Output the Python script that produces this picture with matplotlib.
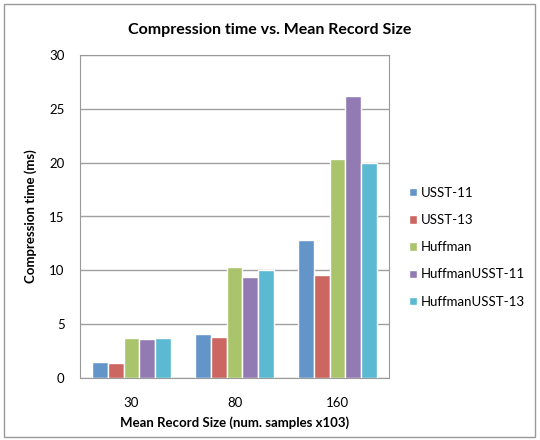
import matplotlib
matplotlib.use("Agg")
import matplotlib.pyplot as plt
import numpy as np
from matplotlib.patches import Rectangle

categories = ["30", "80", "160"]
series_names = ["USST-11", "USST-13", "Huffman", "HuffmanUSST-11", "HuffmanUSST-13"]
usst11 = [1.5, 4.05, 12.85]
usst13 = [1.4, 3.8, 9.6]
huffman = [3.75, 10.3, 20.35]
huff_usst11 = [3.65, 9.4, 26.2]
huff_usst13 = [3.75, 10.0, 19.95]
values = [usst11, usst13, huffman, huff_usst11, huff_usst13]
colors = ["#6495c9", "#cc6660", "#a9c46a", "#927bb2", "#5bb9d1"]
yticks = [0, 5, 10, 15, 20, 25, 30]

plt.rcParams['font.family'] = ['Lato', 'DejaVu Sans']
fig = plt.figure(figsize=(5.4, 4.4), dpi=100)
fig.patches.append(Rectangle((4/540, 3/440), 531/540, 433/440, transform=fig.transFigure,
                             fill=False, edgecolor="#999999", linewidth=1))
ax = fig.add_axes([80/540, 1-378/440, 309/540, 323/440])

x = np.arange(len(categories))
w = 0.152
for i, (name, vals, c) in enumerate(zip(series_names, values, colors)):
    ax.bar(x + (i - 2) * w, vals, width=w, color=c, edgecolor="white", linewidth=1.0,
           label=name, zorder=3)

ax.set_xlim(-0.5, 2.5)
ax.set_ylim(0, 30)
ax.set_yticks(yticks)
ax.set_yticklabels([str(t) for t in yticks], fontsize=9.5)
ax.set_xticks(x)
ax.set_xticklabels(categories, fontsize=9.5)
ax.tick_params(axis='x', length=0, pad=14)
ax.tick_params(axis='y', length=0, pad=11)
ax.grid(axis='y', color="#a0a0a0", linewidth=1, zorder=0)
for s in ax.spines.values():
    s.set_color("#999999")
fig.text(0.5, 1-30/440, "Compression time vs. Mean Record Size", fontsize=11.5,
         fontweight='bold', ha='center', va='center')
ax.set_xlabel("Mean Record Size (num. samples x103)", fontsize=9.5, fontweight='bold', labelpad=5)
ax.set_ylabel("Compression time (ms)", fontsize=9.5, fontweight='bold', labelpad=9)

ax.legend(loc='upper left', bbox_to_anchor=(397/540, 1-175/440), bbox_transform=fig.transFigure,
          frameon=False, fontsize=9.5, handlelength=0.6, handleheight=0.6, handletextpad=0.3,
          labelspacing=1.15)

fig.savefig("out.png", dpi=100)
